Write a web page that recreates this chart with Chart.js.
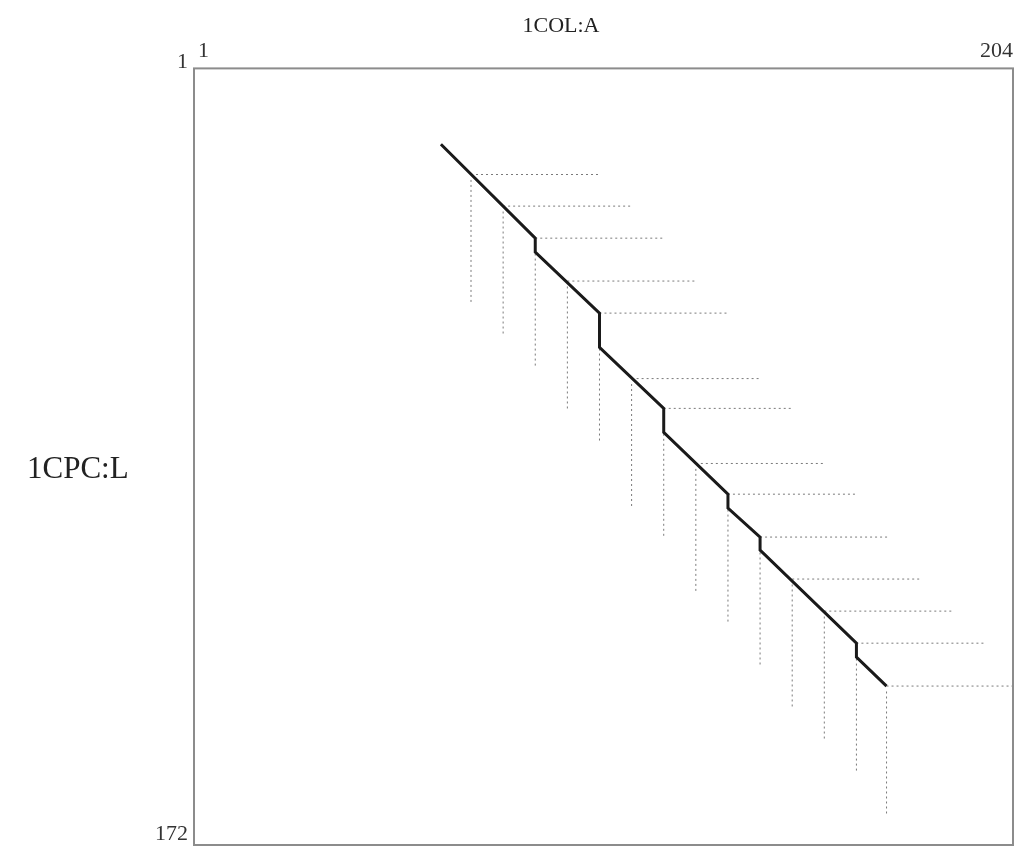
<!DOCTYPE html>
<html>
<head>
<meta charset="utf-8">
<script src="https://cdn.jsdelivr.net/npm/chart.js@4"></script>
<style>
html, body { margin: 0; padding: 0; background: #fff; }
#wrap { width: 1015px; height: 847px; }
</style>
</head>
<body>
<div id="wrap"><canvas id="chart" width="1015" height="847"></canvas></div>
<script>
// axis names and tick labels
var titleX = '1COL:A';
var titleY = '1CPC:L';
var xTicks = [1, 204];
var yTicks = [1, 172];

// alignment path (residue of 1COL:A vs residue of 1CPC:L)
var pathX = [61.5, 85, 85, 101, 101, 117, 117, 133, 133, 141, 141, 165, 165, 172.5];
var pathY = [16.8, 37.6, 40.7, 54.2, 61.8, 75.3, 80.6, 94.3, 97.4, 103.8, 106.7, 127.3, 130.4, 136.8];

// fragment starts, with the end of the dotted guide in each direction
var afpX = [69, 77, 85, 93, 101, 109, 117, 125, 133, 141, 149, 157, 165, 172.5];
var afpY = [23.5, 30.5, 37.6, 47.1, 54.2, 68.7, 75.3, 87.5, 94.3, 103.8, 113.1, 120.2, 127.3, 136.8];
var hEndX = [101, 109, 117, 125, 133, 141, 149, 157, 165, 173, 181, 189, 197, 204];
var vEndY = [52.1, 59.1, 66.2, 75.6, 82.9, 97.2, 104.1, 116.0, 122.9, 132.4, 141.7, 148.8, 156.1, 165.2];

var serif = 'Liberation Serif';
var dotColor = '#7a7a7a';

var datasets = [{
    data: pathX.map(function (x, i) { return { x: x, y: pathY[i] }; }),
    borderColor: '#1a1a1a',
    borderWidth: 3,
    pointRadius: 0,
    showLine: true
}];

afpX.forEach(function (x, i) {
    datasets.push({
        data: [{ x: x, y: afpY[i] }, { x: hEndX[i], y: afpY[i] }],
        borderColor: dotColor,
        borderWidth: 1,
        borderDash: [2, 3],
        pointRadius: 0,
        showLine: true
    });
    datasets.push({
        data: [{ x: x, y: afpY[i] + 1.2 }, { x: x, y: vEndY[i] }],
        borderColor: dotColor,
        borderWidth: 1,
        borderDash: [2, 3],
        pointRadius: 0,
        showLine: true
    });
});

var frame = {
    id: 'frame',
    afterDraw: function (chart) {
        var ctx = chart.ctx, a = chart.chartArea;
        ctx.save();
        ctx.strokeStyle = '#8c8c8c';
        ctx.lineWidth = 2;
        ctx.strokeRect(a.left, a.top, a.right - a.left, a.bottom - a.top);
        ctx.fillStyle = '#222';
        ctx.font = '31px "' + serif + '"';
        ctx.textBaseline = 'middle';
        ctx.textAlign = 'left';
        ctx.fillText(titleY, 27, 470);
        ctx.restore();
    }
};

var chart = new Chart('chart', {
    type: 'scatter',
    data: { datasets: datasets },
    plugins: [frame],
    options: {
        responsive: false,
        animation: false,
        layout: { padding: { left: 109, right: 2, top: 0, bottom: 2 } },
        plugins: {
            legend: { display: false },
            tooltip: { enabled: false },
            title: {
                display: true,
                text: titleX,
                color: '#222',
                font: { family: serif, size: 22, weight: 'normal' },
                padding: { top: 13, bottom: 0 }
            }
        },
        scales: {
            x: {
                type: 'linear',
                position: 'top',
                min: 0,
                max: 204,
                grid: { display: false, drawTicks: false },
                border: { display: false },
                afterBuildTicks: function (s) { s.ticks = xTicks.map(function (v) { return { value: v }; }); },
                afterFit: function (s) { s.height = 29; s.paddingLeft = 0; s.paddingRight = 0; },
                ticks: {
                    align: 'inner',
                    padding: 4,
                    color: '#333',
                    font: { family: serif, size: 22 },
                    callback: function (v) { return String(v); }
                }
            },
            y: {
                type: 'linear',
                position: 'left',
                reverse: true,
                min: 0,
                max: 172,
                grid: { display: false, drawTicks: false },
                border: { display: false },
                afterBuildTicks: function (s) { s.ticks = yTicks.map(function (v) { return { value: v }; }); },
                afterFit: function (s) { s.width = 85; s.paddingTop = 0; s.paddingBottom = 0; },
                ticks: {
                    align: 'end',
                    padding: 6,
                    color: '#333',
                    font: { family: serif, size: 22 },
                    callback: function (v) { return String(v); }
                }
            }
        }
    }
});
</script>
</body>
</html>
